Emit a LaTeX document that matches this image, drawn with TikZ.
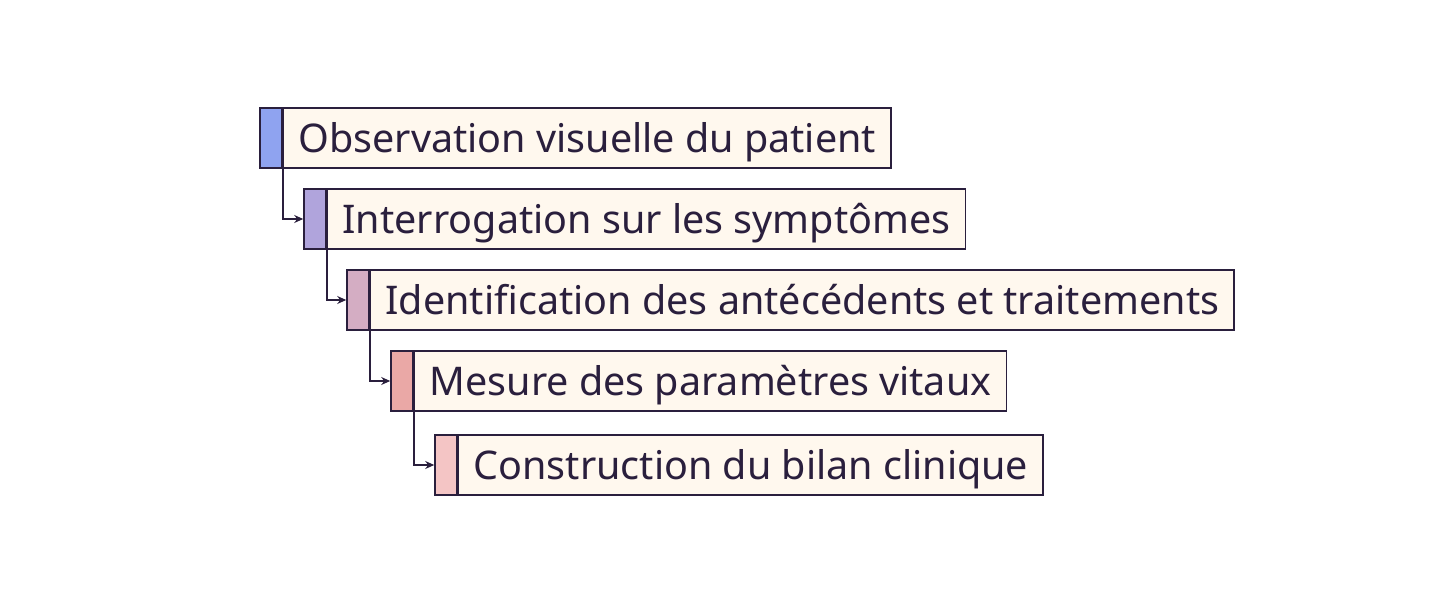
\documentclass[tikz,border=0pt]{standalone}
\usepackage{fontspec}
\setmainfont{Noto Sans}
\usetikzlibrary{calc,arrows.meta}
\definecolor{sink}{HTML}{2A1F3D}
\definecolor{scream}{HTML}{FFF8EE}
\definecolor{sblue}{HTML}{8FA3F0}
\definecolor{slilac}{HTML}{B0A4DC}
\definecolor{smauve}{HTML}{D4ADC3}
\definecolor{srose}{HTML}{EAA8A6}
\definecolor{spink}{HTML}{F4C5C5}

\begin{document}
\begin{tikzpicture}[x=1pt,y=-1pt,TAB/.style={draw=sink,line width=1.6pt,rectangle,minimum width=22pt,minimum height=60pt,inner sep=0pt},TXT/.style={draw=sink,line width=1.6pt,rectangle,fill=scream,text=sink,minimum height=60pt,text height=38pt,text depth=9pt,inner xsep=15pt,inner ysep=0pt,anchor=west},AR/.style={-{Stealth[length=9pt,width=8pt]},line width=1.6pt,draw=sink}]
        \useasboundingbox (0,0) rectangle (1448,607);
        \fontsize{39.5}{46}\selectfont
        % Observation
        \node[TAB,fill=sblue] (tab1) at (271,138) {};
        \node[TXT] (obs) at (tab1.east) {Observation visuelle du patient};
        % Interrogation
        \node[TAB,fill=slilac] (tab2) at (315,219) {};
        \node[TXT] (ask) at (tab2.east) {Interrogation sur les symptômes};
        % Antecedents
        \node[TAB,fill=smauve] (tab3) at (358,300) {};
        \node[TXT] (hist) at (tab3.east) {Identification des antécédents et traitements};
        % Vitals
        \node[TAB,fill=srose] (tab4) at (402,381) {};
        \node[TXT] (vit) at (tab4.east) {Mesure des paramètres vitaux};
        % Bilan
        \node[TAB,fill=spink] (tab5) at (446,465) {};
        \node[TXT] (bilan) at (tab5.east) {Construction du bilan clinique};
        % ARROWS
        \draw[AR] (tab1.south east) |- (tab2.west);
        \draw[AR] (tab2.south east) |- (tab3.west);
        \draw[AR] (tab3.south east) |- (tab4.west);
        \draw[AR] (tab4.south east) |- (tab5.west);
    \end{tikzpicture}
\end{document}
